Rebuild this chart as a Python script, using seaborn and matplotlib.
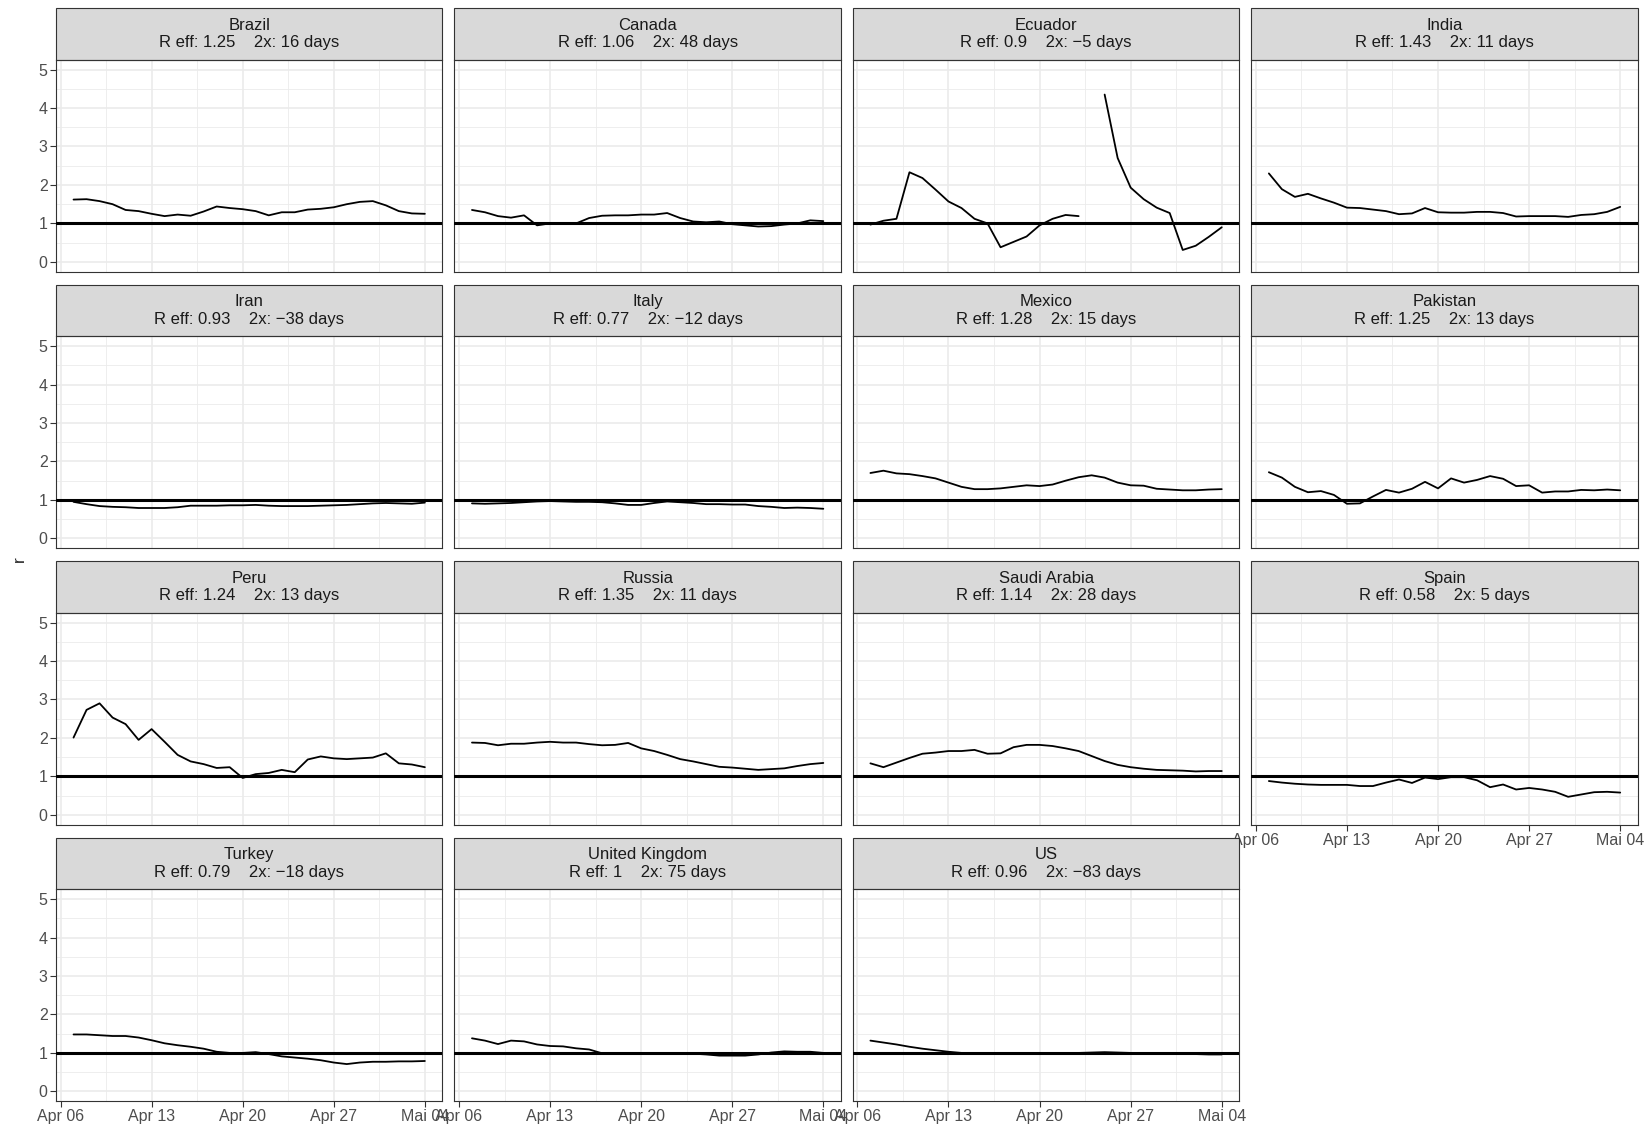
import matplotlib
matplotlib.use("Agg")
import matplotlib.pyplot as plt
import matplotlib.dates as mdates
from matplotlib.patches import Rectangle
import seaborn as sns
import numpy as np
import pandas as pd

# one value per day, Apr 07 .. May 04
start_date = "2020-04-07"
n_days = 28

countries = ["Brazil", "Canada", "Ecuador", "India", "Iran", "Italy", "Mexico",
             "Pakistan", "Peru", "Russia", "Saudi Arabia", "Spain", "Turkey",
             "United Kingdom", "US"]
r_eff = ["1.25", "1.06", "0.9", "1.43", "0.93", "0.77", "1.28", "1.25",
         "1.24", "1.35", "1.14", "0.58", "0.79", "1", "0.96"]
doubling = ["16", "48", "\u22125", "11", "\u221238", "\u221212", "15", "13",
            "13", "11", "28", "5", "\u221218", "75", "\u221283"]

brazil = [1.62, 1.63, 1.58, 1.50, 1.35, 1.32, 1.25, 1.19, 1.23, 1.20, 1.31, 1.44, 1.40, 1.37,
          1.32, 1.21, 1.29, 1.29, 1.36, 1.38, 1.42, 1.50, 1.56, 1.58, 1.47, 1.32, 1.26, 1.25]
canada = [1.35, 1.29, 1.19, 1.15, 1.21, 0.95, 1.00, 1.00, 1.00, 1.14, 1.20, 1.21, 1.21, 1.23,
          1.23, 1.27, 1.14, 1.05, 1.03, 1.05, 0.98, 0.95, 0.92, 0.93, 0.97, 1.00, 1.08, 1.06]
ecuador = [0.97, 1.07, 1.12, 2.33, 2.18, 1.88, 1.57, 1.40, 1.12, 1.00, 0.38, 0.52, 0.66, 0.95,
           1.12, 1.22, 1.19, np.nan, 4.35, 2.70, 1.93, 1.63, 1.41, 1.27, 0.31, 0.42, 0.65, 0.90]
india = [2.30, 1.89, 1.69, 1.77, 1.65, 1.54, 1.41, 1.40, 1.36, 1.32, 1.24, 1.26, 1.40, 1.29,
         1.28, 1.28, 1.30, 1.30, 1.27, 1.18, 1.19, 1.19, 1.19, 1.17, 1.22, 1.24, 1.30, 1.43]
iran = [0.95, 0.89, 0.84, 0.82, 0.81, 0.79, 0.79, 0.79, 0.81, 0.85, 0.85, 0.85, 0.86, 0.86,
        0.87, 0.85, 0.84, 0.84, 0.84, 0.85, 0.86, 0.87, 0.89, 0.91, 0.92, 0.91, 0.90, 0.93]
italy = [0.91, 0.90, 0.91, 0.92, 0.94, 0.96, 0.97, 0.96, 0.95, 0.95, 0.94, 0.91, 0.87, 0.87,
         0.92, 0.96, 0.94, 0.92, 0.89, 0.89, 0.88, 0.88, 0.84, 0.82, 0.79, 0.80, 0.79, 0.77]
mexico = [1.70, 1.76, 1.69, 1.67, 1.62, 1.56, 1.45, 1.34, 1.28, 1.28, 1.30, 1.34, 1.38, 1.36,
          1.40, 1.50, 1.59, 1.64, 1.58, 1.45, 1.38, 1.37, 1.29, 1.27, 1.25, 1.25, 1.27, 1.28]
pakistan = [1.72, 1.58, 1.34, 1.20, 1.23, 1.13, 0.90, 0.91, 1.09, 1.26, 1.19, 1.29, 1.47, 1.30,
            1.56, 1.45, 1.52, 1.62, 1.55, 1.36, 1.38, 1.19, 1.22, 1.22, 1.26, 1.25, 1.27, 1.25]
peru = [2.01, 2.73, 2.90, 2.53, 2.36, 1.95, 2.23, 1.90, 1.56, 1.39, 1.32, 1.22, 1.24, 0.96,
        1.06, 1.09, 1.17, 1.11, 1.44, 1.52, 1.47, 1.45, 1.47, 1.49, 1.60, 1.34, 1.31, 1.24]
russia = [1.88, 1.87, 1.81, 1.85, 1.85, 1.88, 1.90, 1.88, 1.88, 1.84, 1.81, 1.82, 1.87, 1.73,
          1.66, 1.56, 1.45, 1.39, 1.32, 1.25, 1.23, 1.20, 1.17, 1.19, 1.21, 1.27, 1.32, 1.35]
saudi = [1.34, 1.24, 1.36, 1.48, 1.59, 1.62, 1.66, 1.66, 1.69, 1.59, 1.60, 1.76, 1.82, 1.82,
         1.79, 1.73, 1.66, 1.53, 1.40, 1.30, 1.24, 1.20, 1.17, 1.16, 1.15, 1.13, 1.14, 1.14]
spain = [0.88, 0.84, 0.81, 0.79, 0.78, 0.78, 0.78, 0.75, 0.75, 0.84, 0.92, 0.83, 0.97, 0.93,
         0.98, 0.98, 0.90, 0.72, 0.79, 0.66, 0.70, 0.66, 0.60, 0.47, 0.53, 0.59, 0.60, 0.58]
turkey = [1.48, 1.48, 1.46, 1.44, 1.44, 1.40, 1.33, 1.25, 1.20, 1.16, 1.11, 1.03, 1.00, 1.00,
          1.02, 0.97, 0.91, 0.88, 0.85, 0.81, 0.75, 0.71, 0.75, 0.77, 0.77, 0.78, 0.78, 0.79]
uk = [1.38, 1.32, 1.23, 1.32, 1.30, 1.22, 1.18, 1.17, 1.12, 1.09, 0.99, 0.97, 0.98, 0.99,
      0.99, 0.98, 0.98, 0.98, 0.96, 0.93, 0.93, 0.93, 0.96, 1.01, 1.04, 1.03, 1.03, 1.00]
us = [1.32, 1.27, 1.22, 1.16, 1.11, 1.07, 1.03, 1.00, 0.98, 0.97, 0.97, 0.97, 0.98, 0.98,
      0.99, 0.99, 1.00, 1.01, 1.02, 1.01, 1.00, 0.99, 0.99, 0.98, 0.98, 0.97, 0.96, 0.96]

series = [brazil, canada, ecuador, india, iran, italy, mexico, pakistan, peru,
          russia, saudi, spain, turkey, uk, us]

dates = pd.date_range(start_date, periods=n_days)
frames = []
for name, vals in zip(countries, series):
    d = pd.DataFrame({"date": dates, "r": vals, "country": name})
    # a missing day breaks the line into separate pieces
    d["seg"] = d["r"].isna().cumsum()
    frames.append(d.dropna())
df = pd.concat(frames, ignore_index=True)

sns.set_theme(style="white")
plt.rcParams["font.family"] = ["Liberation Sans", "DejaVu Sans"]

g = sns.relplot(data=df, x="date", y="r", col="country", col_wrap=4,
                kind="line", units="seg", estimator=None, color="black",
                linewidth=1.3, col_order=countries, height=3, aspect=1.8,
                facet_kws={"sharex": True, "sharey": True})
g.figure.set_size_inches(16.46, 11.29)
g.figure.subplots_adjust(left=0.034, right=0.995, top=0.9469, bottom=0.0248,
                         wspace=0.031, hspace=0.307)
g.set_titles("")
g.set_axis_labels("", "")

strip_h = 52 / 212
xmin = dates[0] - pd.Timedelta(hours=1.35 * 24)
xmax = dates[-1] + pd.Timedelta(hours=1.35 * 24)
major_days = pd.date_range("2020-04-06", "2020-05-04", freq="7D")
minor_days = major_days[:-1] + pd.Timedelta(hours=84)
tick_text = ["Apr 06", "Apr 13", "Apr 20", "Apr 27", "Mai 04"]
ncol = 4

for i, (name, re, dx) in enumerate(zip(countries, r_eff, doubling)):
    ax = g.axes_dict[name]
    ax.axhline(1, color="black", linewidth=2.2, zorder=3)
    ax.set_xlim(xmin, xmax)
    ax.set_ylim(-0.25, 5.25)
    ax.set_yticks(range(6))
    ax.set_yticks(np.arange(0.5, 5.5, 1.0), minor=True)
    ax.set_xticks(mdates.date2num(major_days))
    ax.set_xticks(mdates.date2num(minor_days), minor=True)
    ax.set_xticklabels(tick_text)
    ax.set_axisbelow(True)
    ax.grid(which="major", color="#EBEBEB", linewidth=1.2)
    ax.grid(which="minor", color="#EBEBEB", linewidth=0.6)
    is_left = i % ncol == 0
    is_bottom = i + ncol >= len(countries)
    ax.tick_params(which="major", width=0.8, color="#333333",
                   labelsize=11.5, labelcolor="#4D4D4D", pad=2,
                   bottom=True, left=True)
    ax.tick_params(axis="y", which="major", length=4 if is_left else 0)
    ax.tick_params(axis="x", which="major", length=4 if is_bottom else 0)
    ax.tick_params(which="minor", length=0)
    for sp in ax.spines.values():
        sp.set_visible(True)
        sp.set_color("#333333")
        sp.set_linewidth(0.8)
    ax.add_patch(Rectangle((0, 1), 1, strip_h, transform=ax.transAxes,
                           clip_on=False, facecolor="#D9D9D9",
                           edgecolor="#333333", linewidth=0.8))
    ax.text(0.5, 1 + strip_h / 2,
            f"{name}\nR eff: {re}    2x: {dx} days",
            transform=ax.transAxes, ha="center", va="center",
            fontsize=12, color="#1A1A1A", linespacing=1.2)

g.figure.text(0.012, 0.505, "r", rotation=90, ha="center", va="center", fontsize=12.5)

g.figure.savefig("out.png", dpi=100)
